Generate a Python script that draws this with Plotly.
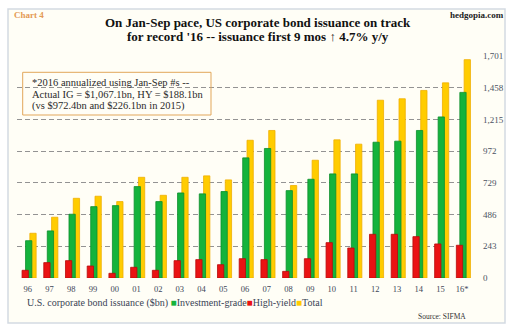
import plotly.graph_objects as go

years = ["96", "97", "98", "99", "00", "01", "02", "03", "04", "05", "06",
         "07", "08", "09", "10", "11", "12", "13", "14", "15", "16*"]
investment_grade = [286, 361, 489, 547, 555, 701, 586, 652, 645, 663, 921,
                    993, 670, 757, 798, 798, 1041, 1049, 1131, 1235, 1423]
high_yield = [59, 118, 133, 92, 36, 82, 59, 133, 141, 102, 148,
              141, 51, 148, 271, 230, 335, 335, 317, 261, 251]
total = [343, 466, 611, 627, 586, 772, 634, 772, 783, 752, 1056,
         1131, 709, 903, 1059, 1026, 1363, 1374, 1438, 1496, 1674]
y_ticks = [0, 243, 486, 729, 972, 1215, 1458, 1701]
y_tick_text = ["0", "243", "486", "729", "972", "1,215", "1,458", "1,701"]

SERIF = "Liberation Serif"
W, H = 515, 333
L, R, T, B = 17, 42, 56, 55
PW, PH = W - L - R, H - T - B


def px(x):
    return (x - L) / PW


def py(y):
    return (H - B - y) / PH


fig = go.Figure()
bw = 0.29
fig.add_trace(go.Bar(x=years, y=total, name="Total", width=bw, offset=0.092,
                     marker=dict(color="#FFCC00", line=dict(color="#F0AE00", width=0.8))))
fig.add_trace(go.Bar(x=years, y=investment_grade, name="Investment-grade", width=bw, offset=-0.106,
                     marker=dict(color="#14B33C", line=dict(color="#0C8E2C", width=0.8))))
fig.add_trace(go.Bar(x=years, y=high_yield, name="High-yield", width=bw, offset=-0.267,
                     marker=dict(color="#EA1313", line=dict(color="#B80A0A", width=0.8))))

annots = []
annots.append(dict(x=px(11.5), y=py(15), xref="paper", yref="paper", xanchor="left", yanchor="middle",
                   text="<b>Chart 4</b>", showarrow=False,
                   font=dict(family=SERIF, size=9, color="#E49A55")))
annots.append(dict(x=px(506), y=py(15.5), xref="paper", yref="paper", xanchor="right", yanchor="middle",
                   text="<b>hedgopia.com</b>", showarrow=False,
                   font=dict(family=SERIF, size=9, color="#222222")))
annots.append(dict(x=px(257.5), y=py(23), xref="paper", yref="paper", xanchor="center", yanchor="middle",
                   text="<b>On Jan-Sep pace, US corporate bond issuance on track</b>", showarrow=False,
                   font=dict(family=SERIF, size=13, color="#111111")))
annots.append(dict(x=px(257.5), y=py(36.5), xref="paper", yref="paper", xanchor="center", yanchor="middle",
                   text="<b>for record '16 -- issuance first 9 mos \u2191 4.7% y/y</b>", showarrow=False,
                   font=dict(family=SERIF, size=13, color="#111111")))
box_lines = ["*2016 annualized using Jan-Sep #s --",
             "Actual IG = $1,067.1bn, HY = $188.1bn",
             "(vs $972.4bn and $226.1bn in 2015)"]
for i, t in enumerate(box_lines):
    annots.append(dict(x=px(29.5), y=py(82.7 + 11.7 * i), xref="paper", yref="paper",
                       xanchor="left", yanchor="middle", text=t, showarrow=False,
                       font=dict(family=SERIF, size=10.5, color="#2a2a2a")))
legend_text = ("U.S. corporate bond issuance ($bn) "
               "<span style='color:#14B33C'>\u25a0</span>Investment-grade"
               "<span style='color:#EA1313'>\u25a0</span>High-yield"
               "<span style='color:#FFCC00'>\u25a0</span>Total")
annots.append(dict(x=px(24.5), y=py(303), xref="paper", yref="paper", xanchor="left", yanchor="middle",
                   text=legend_text, showarrow=False,
                   font=dict(family=SERIF, size=10, color="#3a4455")))
annots.append(dict(x=px(468), y=py(316), xref="paper", yref="paper", xanchor="right", yanchor="middle",
                   text="Source: SIFMA", showarrow=False,
                   font=dict(family=SERIF, size=7.5, color="#333333")))

shapes = [
    dict(type="rect", xref="paper", yref="paper", x0=px(8), x1=px(505), y0=py(9), y1=py(323),
         line=dict(color="#D3DAE2", width=1.5), fillcolor="#FFFEF6", layer="below"),
    dict(type="rect", xref="paper", yref="paper", x0=px(22.7), x1=px(211), y0=py(72.3), y1=py(115),
         line=dict(color="#E2A75A", width=1), fillcolor="rgba(0,0,0,0)", layer="above"),
]

fig.update_layout(
    width=W, height=H,
    margin=dict(l=L, r=R, t=T, b=B, pad=0),
    barmode="overlay",
    showlegend=False,
    paper_bgcolor="white",
    plot_bgcolor="rgba(0,0,0,0)",
    annotations=annots,
    shapes=shapes,
    xaxis=dict(type="category", showgrid=False, zeroline=False, showline=False, ticks="",
               tickfont=dict(family=SERIF, size=8.5, color="#3d4656"), ticklabelstandoff=4),
    yaxis=dict(side="right", range=[0, 1702], tickvals=y_ticks, ticktext=y_tick_text,
               showgrid=True, gridcolor="#939393", griddash="5px,3px", gridwidth=1,
               zeroline=False, showline=False, ticks="",
               tickfont=dict(family=SERIF, size=9, color="#4a5262"), ticklabelstandoff=9),
)

fig.write_html("out.html")
